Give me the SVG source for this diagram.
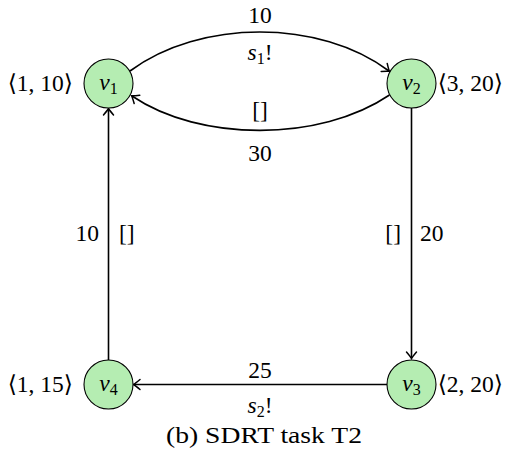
<svg xmlns="http://www.w3.org/2000/svg" width="508" height="461" viewBox="0 0 508 461" font-family="'DejaVu Serif', serif">
<style>
  .node { fill: #b5edb2; stroke: #000; stroke-width: 1.1; }
  .edge { fill: none; stroke: #000; stroke-width: 1.6; marker-end: url(#arr); }
  text { font-family: "Liberation Serif", "Times New Roman", "DejaVu Serif", serif; font-size: 23.5px; fill: #000; }
  .c { text-anchor: middle; }
  .r { text-anchor: end; }
  .i { font-style: italic; }
  .sub { font-size: 16px; font-style: normal; }
</style>
<defs>
  <marker id="arr" markerUnits="userSpaceOnUse" markerWidth="16" markerHeight="16" refX="0" refY="0" viewBox="-10 -8 12 16" orient="auto" overflow="visible">
    <path d="M-6,-5 Q-1.5,-1.2 0.5,0 Q-1.5,1.2 -6,5" fill="none" stroke="#000" stroke-width="1.5" stroke-linecap="round"/>
  </marker>
</defs>
<g id="connectors">
  <path class="edge" d="M130,71 C200,19 320,19 389,71"/>
  <path class="edge" d="M389.5,95 C320,142 200,142 132,96"/>
  <path class="edge" d="M411.5,108 L411.5,358"/>
  <path class="edge" d="M387,384.5 L134,384.5"/>
  <path class="edge" d="M108.5,360 L108.5,109"/>
</g>
<g id="edge-labels">
  <text class="c" x="260" y="23">10</text>
  <text class="c" x="260" y="60"><tspan class="i">s</tspan><tspan class="sub" dy="4">1</tspan><tspan dy="-4">!</tspan></text>
  <text class="c" x="260" y="118">[]</text>
  <text class="c" x="260" y="161">30</text>
  <text class="r" x="99" y="241">10</text>
  <text x="119" y="241">[]</text>
  <text class="r" x="401" y="241">[]</text>
  <text x="420" y="241">20</text>
  <text class="c" x="260" y="378">25</text>
  <text class="c" x="260" y="413"><tspan class="i">s</tspan><tspan class="sub" dy="4">2</tspan><tspan dy="-4">!</tspan></text>
</g>
<g id="v1">
  <circle class="node" cx="108.5" cy="83.5" r="24.5"/>
  <text class="c" x="108.5" y="90"><tspan class="i">v</tspan><tspan class="sub" dy="4">1</tspan></text>
  <text class="r" x="73" y="91">⟨1, 10⟩</text>
</g>
<g id="v2">
  <circle class="node" cx="411.5" cy="83.5" r="24.5"/>
  <text class="c" x="411.5" y="90"><tspan class="i">v</tspan><tspan class="sub" dy="4">2</tspan></text>
  <text class="r" x="503" y="91">⟨3, 20⟩</text>
</g>
<g id="v3">
  <circle class="node" cx="411.5" cy="384.5" r="24.5"/>
  <text class="c" x="411.5" y="391"><tspan class="i">v</tspan><tspan class="sub" dy="4">3</tspan></text>
  <text class="r" x="503" y="392">⟨2, 20⟩</text>
</g>
<g id="v4">
  <circle class="node" cx="108.5" cy="384.5" r="24.5"/>
  <text class="c" x="108.5" y="391"><tspan class="i">v</tspan><tspan class="sub" dy="4">4</tspan></text>
  <text class="r" x="73" y="392">⟨1, 15⟩</text>
</g>
<text x="166" y="443" textLength="196" lengthAdjust="spacingAndGlyphs">(b) SDRT task T2</text>
</svg>
